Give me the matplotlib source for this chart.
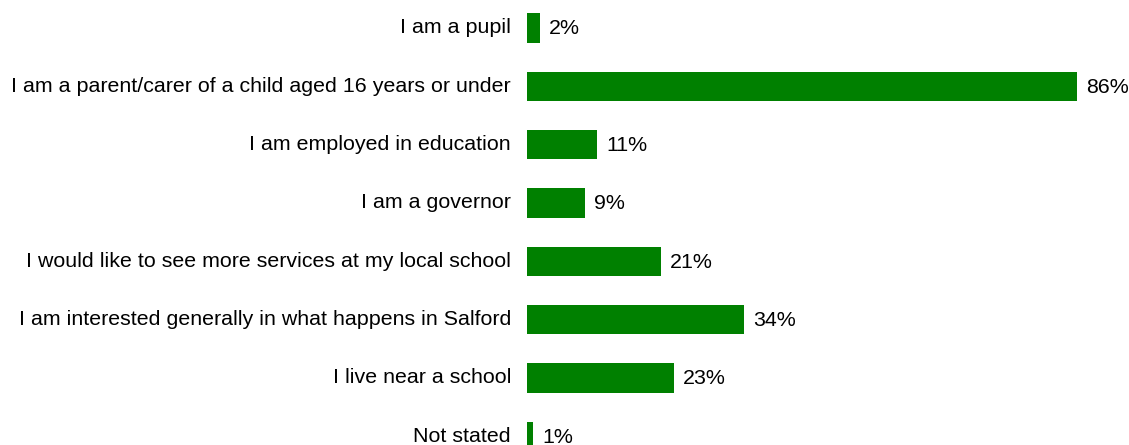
import matplotlib.pyplot as plt
from matplotlib.transforms import ScaledTranslation

plt.rcParams['font.family'] = ['Liberation Sans', 'DejaVu Sans']

categories = ["I am a pupil",
              "I am a parent/carer of a child aged 16 years or under",
              "I am employed in education",
              "I am a governor",
              "I would like to see more services at my local school",
              "I am interested generally in what happens in Salford",
              "I live near a school",
              "Not stated"]
values = [2, 86, 11, 9, 21, 34, 23, 1]

fig = plt.figure(figsize=(11.29, 4.45), dpi=100)
ax = fig.add_axes([527 / 1129, 0, 602 / 1129, 1])

pos = list(range(len(categories)))
ax.barh(pos, values, height=0.5, color="#008000")
for p, v in zip(pos, values):
    ax.text(v + 1.4, p - 0.02, str(v) + "%", va="center_baseline", ha="left", fontsize=15.4)

ax.set_xlim(0, 602 / 6.395)
ax.set_ylim(7.15, -0.48)
ax.set_yticks(pos)
ax.set_yticklabels(categories, fontsize=15.4)
ax.tick_params(axis="y", length=0, pad=11.5)
ax.set_xticks([])
for s in ax.spines.values():
    s.set_visible(False)

# nudge the labels up a couple of pixels
shift = ScaledTranslation(0, 2 / 100, fig.dpi_scale_trans)
for lbl in ax.get_yticklabels():
    lbl.set_transform(lbl.get_transform() + shift)

fig.savefig("out.png", dpi=100)
